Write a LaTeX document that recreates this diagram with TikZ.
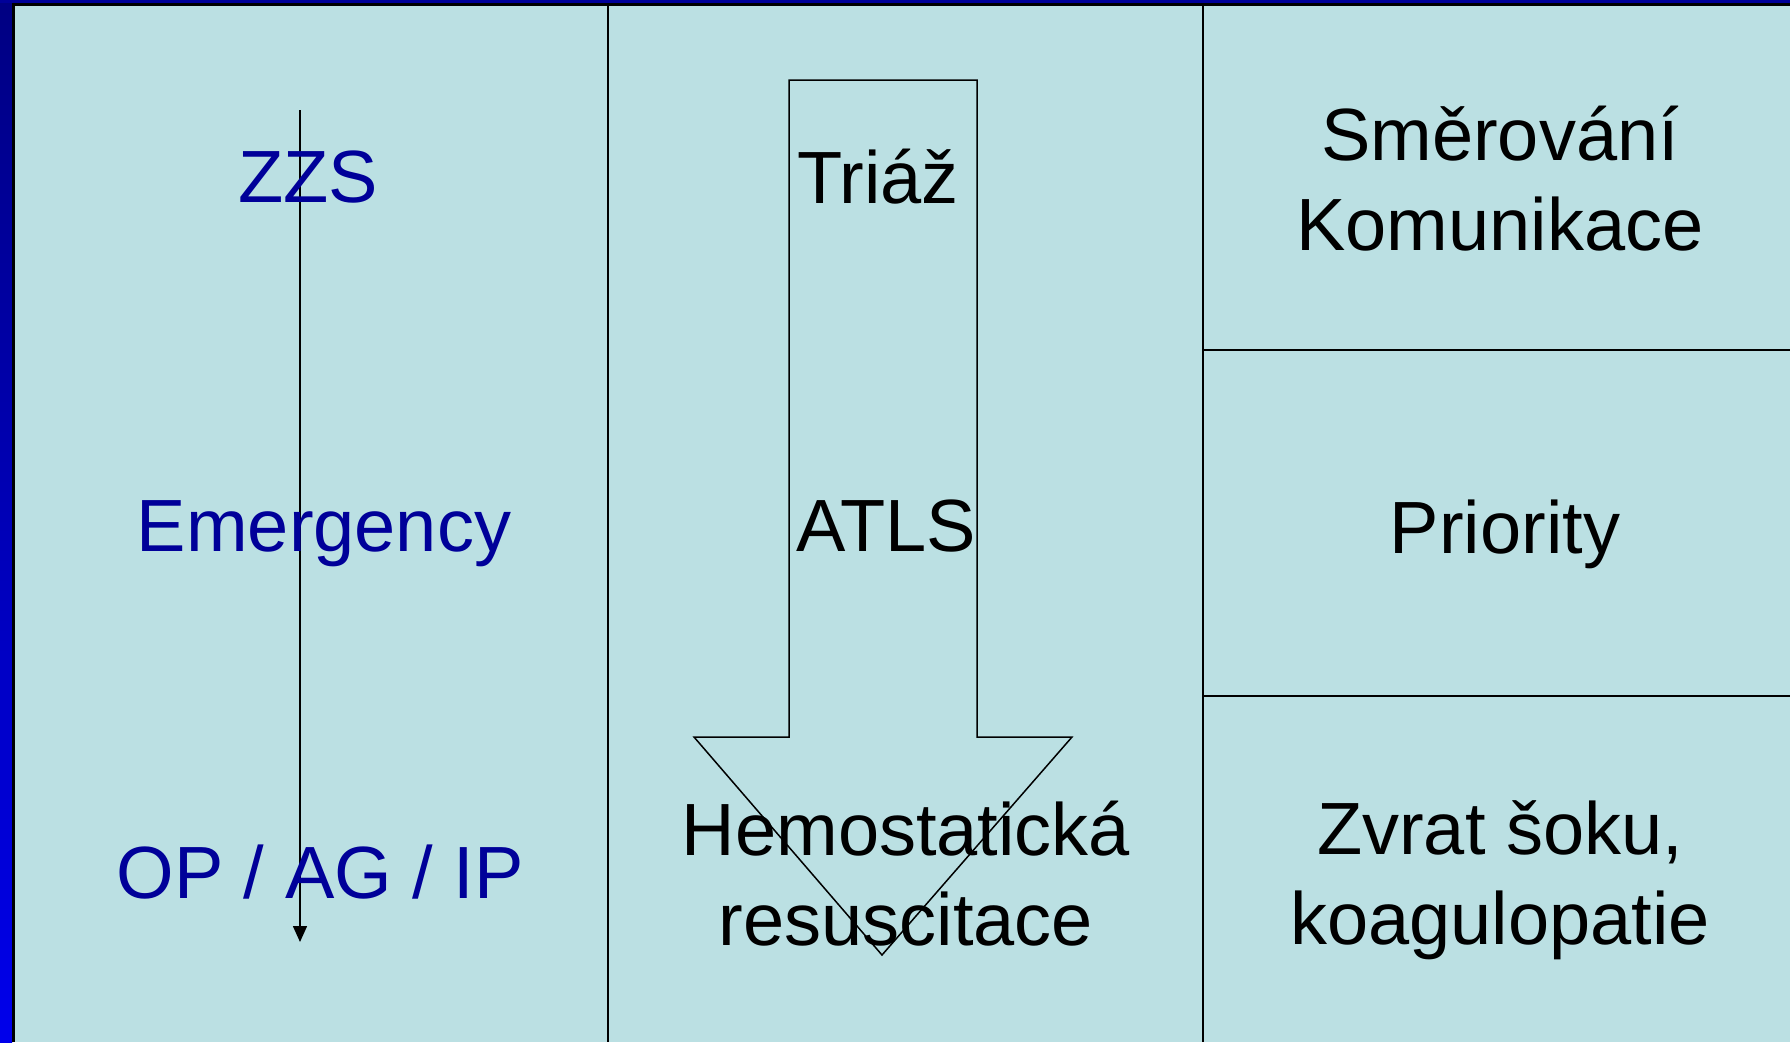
\documentclass[tikz,border=0pt]{standalone}
\usepackage{fontspec}
\setmainfont{Liberation Sans}
\usetikzlibrary{arrows.meta}
\definecolor{bgc}{RGB}{187,224,227}
\definecolor{txtblue}{RGB}{0,0,153}
\definecolor{stripdark}{RGB}{0,0,130}
\definecolor{stripbright}{RGB}{0,0,235}
\tikzset{
  lbl/.style={font=\fontsize{74}{90}\selectfont, align=center, inner sep=0pt},
  bluelbl/.style={lbl, text=txtblue},
  divider/.style={line width=2pt, black},
  outline/.style={line width=1.5pt, black, line join=miter},
}
\begin{document}
\begin{tikzpicture}[x=1pt,y=-1pt]
\useasboundingbox (0,0) rectangle (1790,1042);
\fill[bgc] (0,0) rectangle (1790,1042);
\shade[top color=stripdark, bottom color=stripbright] (0,0) rectangle (12,1042);
\fill[txtblue] (0,0) rectangle (1790,3);
\draw[line width=3pt] (13.5,1042) -- (13.5,4.5) -- (1790,4.5);
% column dividers
\draw[divider] (608,6) -- (608,1042);
\draw[divider] (1203,6) -- (1203,1042);
\draw[divider] (1203,350) -- (1790,350);
\draw[divider] (1203,696) -- (1790,696);
% big hollow arrow
\coordinate (s1) at (789,80);
\coordinate (s2) at (977,80);
\coordinate (s3) at (977,737);
\coordinate (h1) at (1072,737);
\coordinate (tip) at (882,955);
\coordinate (h2) at (694,737);
\coordinate (s4) at (789,737);
\draw[outline] (s1) -- (s2) -- (s3) -- (h1) -- (tip) -- (h2) -- (s4) -- cycle;
% thin arrow in left column
\coordinate (ta) at (300,110);
\coordinate (tb) at (300,942);
\draw[line width=1.5pt, -{Triangle[length=16pt,width=14pt]}] (ta) -- (tb);
% left column labels
\node[bluelbl] (zzs) at (308,177) {ZZS};
\node[bluelbl] (emerg) at (324,534) {Emergency};
\node[bluelbl] (op) at (320,872) {OP / AG / IP};
% middle column labels
\node[lbl] (triaz) at (878,177) {Triáž};
\node[lbl] (atls) at (886,526) {ATLS};
\node[lbl] (hemo) at (906,874) {Hemostatická\\resuscitace};
% right column labels
\node[lbl] (smer) at (1500,179) {Směrování\\Komunikace};
\node[lbl] (prio) at (1505,534) {Priority};
\node[lbl] (zvrat) at (1500,880) {Zvrat šoku,\\koagulopatie};
\end{tikzpicture}
\end{document}
